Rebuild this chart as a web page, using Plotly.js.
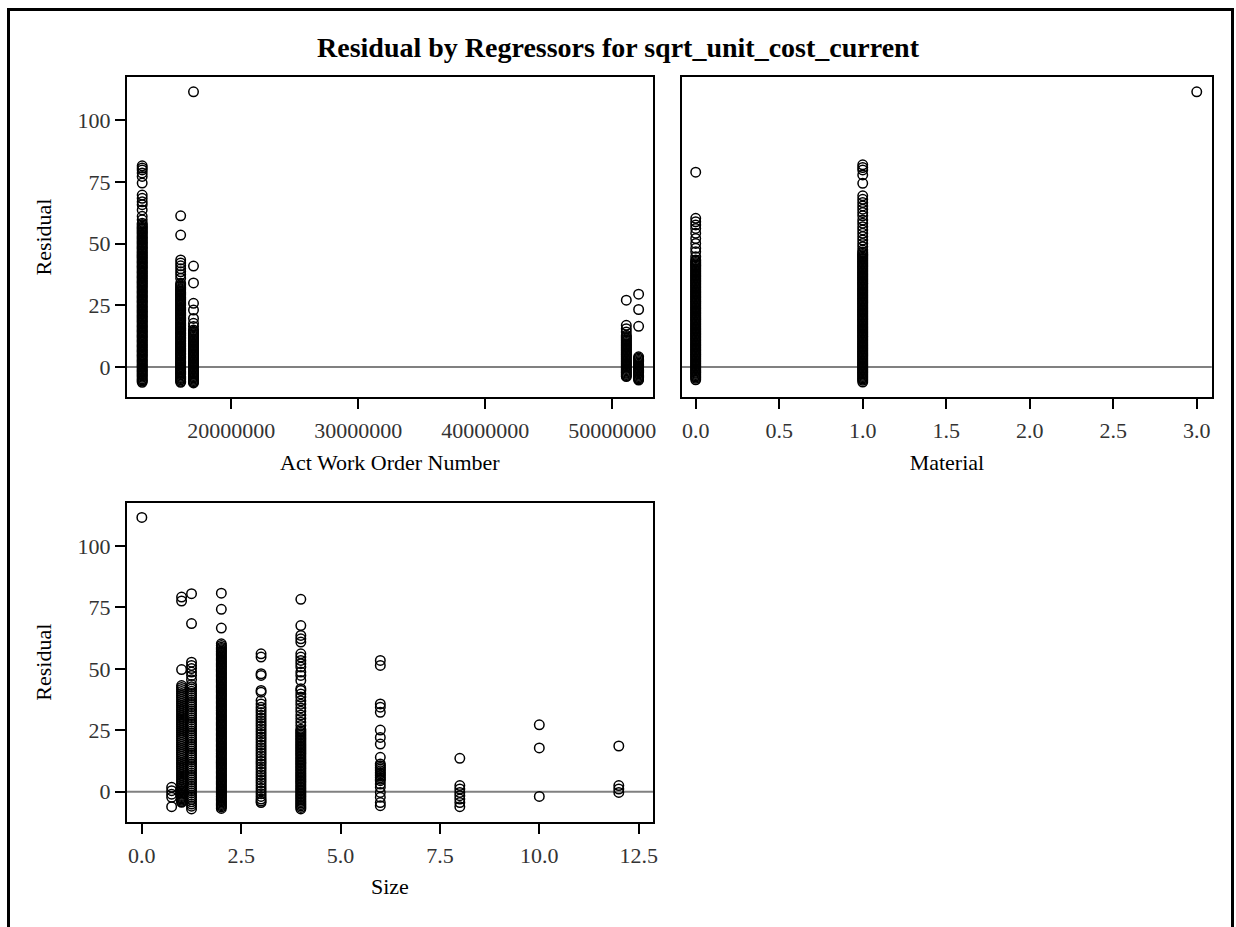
<!DOCTYPE html>
<html>
<head>
<meta charset="utf-8">
<script src="https://cdn.plot.ly/plotly-3.0.1.min.js"></script>
<style>
  html, body { margin: 0; padding: 0; background: #ffffff; }
  #wrap { position: relative; width: 1236px; height: 927px; overflow: hidden; }
  #chart { position: absolute; left: 0; top: 0; width: 1236px; height: 927px; }
  #frame { position: absolute; left: 7px; top: 8px; width: 1221px; height: 940px;
           border: 3px solid #000; border-bottom: none; pointer-events: none; }
</style>
</head>
<body>
<div id="wrap">
  <div id="chart"></div>
  <div id="frame"></div>
</div>
<script>
// ---------------- Data ----------------
// Panel 1: Residual vs Act Work Order Number (one column per work-order group)
const woX = [12990000, 16020000, 17030000, 51100000, 52070000];
const residWO13 = [81.6, 80.7, 79.9, 78.7, 77.3, 74.6, 69.7, 68.4, 67.0, 65.8, 63.7, 61.1, 59.7,
  58.3, 57.8, 57.2, 56.7, 56.3, 55.8, 55.2, 54.7, 54.3, 53.8, 53.2, 52.7, 52.3, 51.8, 51.2, 50.7,
  50.3, 49.8, 49.2, 48.7, 48.3, 47.8, 47.2, 46.7, 46.3, 45.8, 45.2, 44.7, 44.3, 43.8, 43.2, 42.7,
  42.3, 41.8, 41.2, 40.7, 40.3, 39.8, 39.2, 38.7, 38.3, 37.8, 37.2, 36.7, 36.3, 35.8, 35.2, 34.7,
  34.3, 33.8, 33.2, 32.7, 32.3, 31.8, 31.2, 30.7, 30.3, 29.8, 29.2, 28.7, 28.3, 27.8, 27.2, 26.7,
  26.3, 25.8, 25.2, 24.7, 24.3, 23.8, 23.2, 22.7, 22.3, 21.8, 21.2, 20.7, 20.3, 19.8, 19.2, 18.7,
  18.3, 17.8, 17.2, 16.7, 16.3, 15.8, 15.2, 14.7, 14.3, 13.8, 13.2, 12.7, 12.3, 11.8, 11.2, 10.7,
  10.3, 9.8, 9.2, 8.7, 8.3, 7.8, 7.2, 6.7, 6.3, 5.8, 5.2, 4.7, 4.3, 3.8, 3.2, 2.7, 2.3, 1.8, 1.2,
  0.7, 0.3, -0.2, -0.8, -1.3, -1.7, -2.2, -2.8, -3.3, -3.7, -4.2, -4.8, -5.3, -5.7, -6.2];
const residWO16 = [61.3, 53.5, 43.4, 42.2, 41.0, 39.8, 38.6, 37.4, 36.0, 34.0,
  33.3, 32.8, 32.2, 31.7, 31.3, 30.8, 30.2, 29.7, 29.3, 28.8, 28.2, 27.7, 27.3, 26.8, 26.2, 25.7,
  25.3, 24.8, 24.2, 23.7, 23.3, 22.8, 22.2, 21.7, 21.3, 20.8, 20.2, 19.7, 19.3, 18.8, 18.2, 17.7,
  17.3, 16.8, 16.2, 15.7, 15.3, 14.8, 14.2, 13.7, 13.3, 12.8, 12.2, 11.7, 11.3, 10.8, 10.2, 9.7,
  9.3, 8.8, 8.2, 7.7, 7.3, 6.8, 6.2, 5.7, 5.3, 4.8, 4.2, 3.7, 3.3, 2.8, 2.2, 1.7, 1.3, 0.8, 0.2,
  -0.3, -0.7, -1.2, -1.8, -2.3, -2.7, -3.2, -3.8, -4.3, -4.7, -5.2, -5.8, -6.2];
const residWO17 = [111.6, 40.9, 34.1, 25.8, 23.1, 19.7, 17.7, 16.4, 15.0,
  14.5, 14.0, 13.5, 13.0, 12.5, 12.0, 11.5, 11.0, 10.5, 10.0, 9.5, 9.0, 8.5, 8.0, 7.5, 7.0, 6.5,
  6.0, 5.5, 5.0, 4.5, 4.0, 3.5, 3.0, 2.5, 2.0, 1.5, 1.0, 0.5, 0.0, -0.5, -1.0, -1.5, -2.0, -2.5,
  -3.0, -3.5, -4.0, -4.5, -5.0, -5.5, -6.0, -6.5];
const residWO51 = [27.1, 16.9, 15.5, 14.2, 12.9, 12.4, 11.9, 11.4, 10.9, 10.4, 9.9, 9.4, 8.9,
  8.4, 7.9, 7.4, 6.9, 6.4, 5.9, 5.4, 4.9, 4.4, 3.9, 3.4, 2.9, 2.4, 1.9, 1.4, 0.9, 0.4, -0.1, -0.6,
  -1.1, -1.6, -2.1, -2.6, -3.1, -3.6, -3.9];
const residWO52 = [29.5, 23.3, 16.5, 4.1, 3.6, 3.1, 2.6, 2.1, 1.6, 1.1, 0.6, 0.1, -0.4, -0.9,
  -1.4, -1.9, -2.4, -2.9, -3.4, -3.9, -4.4, -4.9, -5.3];
const residWO = [residWO13, residWO16, residWO17, residWO51, residWO52];

// Panel 2: Residual vs Material
const matX = [0, 1, 3];
const residMat0 = [79.0, 60.3, 58.9, 57.6, 56.2, 54.2, 52.1, 50.1, 48.1, 46.7, 44.7,
  43.4, 42.9, 42.4, 41.9, 41.4, 40.9, 40.4, 39.9, 39.4, 38.9, 38.4, 37.9, 37.4, 36.9, 36.4, 35.9,
  35.4, 34.9, 34.4, 33.9, 33.4, 32.9, 32.4, 31.9, 31.4, 30.9, 30.4, 29.9, 29.4, 28.9, 28.4, 27.9,
  27.4, 26.9, 26.4, 25.9, 25.4, 24.9, 24.4, 23.9, 23.4, 22.9, 22.4, 21.9, 21.4, 20.9, 20.4, 19.9,
  19.4, 18.9, 18.4, 17.9, 17.4, 16.9, 16.4, 15.9, 15.4, 14.9, 14.4, 13.9, 13.4, 12.9, 12.4, 11.9,
  11.4, 10.9, 10.4, 9.9, 9.4, 8.9, 8.4, 7.9, 7.4, 6.9, 6.4, 5.9, 5.4, 4.9, 4.4, 3.9, 3.4, 2.9,
  2.4, 1.9, 1.4, 0.9, 0.4, -0.1, -0.6, -1.1, -1.6, -2.1, -2.6, -3.1, -3.6, -4.1, -4.6, -5.2];
const residMat1 = [82.0, 80.9, 79.9, 77.9, 74.5, 69.4, 68.0, 66.7, 65.3, 64.0, 62.6, 61.3, 59.6,
  58.3, 56.9, 55.6, 54.2, 52.9, 51.5, 50.1, 48.8, 47.4,
  46.6, 46.1, 45.6, 45.1, 44.6, 44.1, 43.6, 43.1, 42.6, 42.1, 41.6, 41.1, 40.6, 40.1, 39.6, 39.1,
  38.6, 38.1, 37.6, 37.1, 36.6, 36.1, 35.6, 35.1, 34.6, 34.1, 33.6, 33.1, 32.6, 32.1, 31.6, 31.1,
  30.6, 30.1, 29.6, 29.1, 28.6, 28.1, 27.6, 27.1, 26.6, 26.1, 25.6, 25.1, 24.6, 24.1, 23.6, 23.1,
  22.6, 22.1, 21.6, 21.1, 20.6, 20.1, 19.6, 19.1, 18.6, 18.1, 17.6, 17.1, 16.6, 16.1, 15.6, 15.1,
  14.6, 14.1, 13.6, 13.1, 12.6, 12.1, 11.6, 11.1, 10.6, 10.1, 9.6, 9.1, 8.6, 8.1, 7.6, 7.1, 6.6,
  6.1, 5.6, 5.1, 4.6, 4.1, 3.6, 3.1, 2.6, 2.1, 1.6, 1.1, 0.6, 0.1, -0.4, -0.9, -1.4, -1.9, -2.4,
  -2.9, -3.4, -3.9, -4.4, -4.9, -5.4, -6.1];
const residMat3 = [111.6];
const residMat = [residMat0, residMat1, residMat3];

// Panel 3: Residual vs Size
const sizeX = [0, 0.75, 1, 1.25, 2, 3, 4, 6, 8, 10, 12];
const residSize0 = [111.6];
const residSize075 = [1.8, 0.4, -1.0, -2.3, -6.1];
const residSize1 = [79.2, 77.6, 49.7, 43.2, 42.4, 41.6, 40.8, 40.0, 39.2, 38.4, 37.6, 36.8, 36.0,
  35.2, 34.4, 33.6, 32.8, 32.0, 31.2, 30.4, 29.6, 28.8, 28.0, 27.2, 26.4, 25.6, 24.8, 24.0, 23.2,
  22.4, 21.6, 20.8, 20.0, 19.2, 18.4, 17.6, 16.8, 16.0, 15.2, 14.4, 13.6, 12.8, 12.0, 11.2, 10.4,
  9.6, 8.8, 8.0, 7.2, 6.4, 5.6, 4.8, 4.0, 3.2, 2.4, 1.6, 1.0, 0.5, 0.0, -0.5, -1.0, -1.5, -2.0,
  -2.5, -3.0, -3.5, -4.0, -4.3];
const residSize125 = [80.6, 68.4, 52.7, 51.4, 50.1, 48.7, 47.3, 45.6, 43.6, 42.7, 41.8, 40.9,
  40.0, 39.1, 38.2, 37.3, 36.4, 35.5, 34.6, 33.7, 32.8, 31.9, 31.0, 30.1, 29.2, 28.3, 27.4, 26.5,
  25.6, 24.7, 23.8, 22.9, 22.0, 21.1, 20.2, 19.3, 18.4, 17.5, 16.6, 15.7, 14.8, 13.9, 13.0, 12.1,
  11.2, 10.3, 9.4, 8.5, 7.6, 6.7, 5.8, 4.9, 4.0, 3.1, 2.2, 1.3, 0.4, -0.5, -1.4, -2.3, -3.2,
  -4.1, -5.0, -5.9, -7.0];
const residSize2 = [80.8, 74.2, 66.6, 60.2, 59.5, 58.8,
  58.3, 57.8, 57.3, 56.8, 56.3, 55.8, 55.3, 54.8, 54.3, 53.8, 53.3, 52.8, 52.3, 51.8, 51.3, 50.8,
  50.3, 49.8, 49.3, 48.8, 48.3, 47.8, 47.3, 46.8, 46.3, 45.8, 45.3, 44.8, 44.3, 43.8, 43.3, 42.8,
  42.3, 41.8, 41.3, 40.8, 40.3, 39.8, 39.3, 38.8, 38.3, 37.8, 37.3, 36.8, 36.3, 35.8, 35.3, 34.8,
  34.3, 33.8, 33.3, 32.8, 32.3, 31.8, 31.3, 30.8, 30.3, 29.8, 29.3, 28.8, 28.3, 27.8, 27.3, 26.8,
  26.3, 25.8, 25.3, 24.8, 24.3, 23.8, 23.3, 22.8, 22.3, 21.8, 21.3, 20.8, 20.3, 19.8, 19.3, 18.8,
  18.3, 17.8, 17.3, 16.8, 16.3, 15.8, 15.3, 14.8, 14.3, 13.8, 13.3, 12.8, 12.3, 11.8, 11.3, 10.8,
  10.3, 9.8, 9.3, 8.8, 8.3, 7.8, 7.3, 6.8, 6.3, 5.8, 5.3, 4.8, 4.3, 3.8, 3.3, 2.8, 2.3, 1.8, 1.3,
  0.8, 0.3, -0.2, -0.7, -1.2, -1.7, -2.2, -2.7, -3.2, -3.7, -4.2, -4.7, -5.2, -5.7, -6.2, -6.8];
const residSize3 = [56.1, 54.8, 48.0, 47.3, 41.2, 40.5, 37.1, 35.7, 34.4, 33.3, 32.2, 31.1, 30.0,
  28.9, 27.8, 26.7, 25.6, 24.5, 23.4, 22.3, 21.2, 20.1, 19.0, 17.9, 16.8, 15.7, 14.6, 13.5, 12.4,
  11.3, 10.2, 9.1, 8.0, 6.9, 5.8, 4.7, 3.6, 2.5, 1.4, 0.3, -0.8, -1.9, -3.0, -3.8, -4.4];
const residSize4 = [78.3, 67.6, 63.6, 62.2, 60.9, 56.1, 54.8, 53.4, 52.1, 50.7, 48.7, 47.3, 45.3,
  41.9, 41.2, 39.8, 38.5, 37.0, 35.6, 34.1, 32.7, 31.2, 29.8, 28.3, 26.9, 25.4,
  24.8, 24.2, 23.6, 23.0, 22.4, 21.8, 21.2, 20.6, 20.0, 19.4, 18.8, 18.2, 17.6, 17.0, 16.4, 15.8,
  15.2, 14.6, 14.0, 13.4, 12.8, 12.2, 11.6, 11.0, 10.4, 9.8, 9.2, 8.6, 8.0, 7.4, 6.8, 6.2, 5.6,
  5.0, 4.4, 3.8, 3.2, 2.6, 2.0, 1.4, 0.8, 0.2, -0.4, -1.0, -1.6, -2.2, -2.8, -3.4, -4.0, -4.6,
  -5.2, -5.8, -6.4, -7.0];
const residSize6 = [53.4, 51.4, 35.7, 34.4, 32.3, 25.1, 22.1, 19.4, 14.0, 11.3, 10.6, 9.9, 9.2,
  8.5, 7.8, 7.2, 6.5, 5.8, 5.1, 4.5, 3.1, 1.8, -0.3, -2.3, -4.4, -5.7];
const residSize8 = [13.6, 2.5, 1.1, -0.3, -1.6, -3.0, -4.4, -6.1];
const residSize10 = [27.2, 17.8, -1.9];
const residSize12 = [18.6, 2.5, 1.1, -0.3];
const residSize = [residSize0, residSize075, residSize1, residSize125, residSize2, residSize3,
  residSize4, residSize6, residSize8, residSize10, residSize12];

const yTicks = [0, 25, 50, 75, 100];
const woTicks = [20000000, 30000000, 40000000, 50000000];
const woTickText = ['20000000', '30000000', '40000000', '50000000'];

// ---------------- Build traces ----------------
function flatten(xs, groups) {
  const x = [], y = [];
  groups.forEach((g, i) => g.forEach(v => { x.push(xs[i]); y.push(v); }));
  return {x, y};
}
const marker = { symbol: 'circle-open', size: 9.5, color: '#000', line: { color: '#000', width: 1.5 } };
const p1 = flatten(woX, residWO);
const p2 = flatten(matX, residMat);
const p3 = flatten(sizeX, residSize);

const traces = [
  { type: 'scatter', mode: 'markers', x: p1.x, y: p1.y, xaxis: 'x', yaxis: 'y', marker, hoverinfo: 'x+y' },
  { type: 'scatter', mode: 'markers', x: p2.x, y: p2.y, xaxis: 'x2', yaxis: 'y2', marker, hoverinfo: 'x+y' },
  { type: 'scatter', mode: 'markers', x: p3.x, y: p3.y, xaxis: 'x3', yaxis: 'y3', marker, hoverinfo: 'x+y' }
];

const FONT = 'Liberation Serif, Times New Roman, serif';
const tickFont = { family: FONT, size: 22, color: '#333' };
const titleFont = { family: FONT, size: 22, color: '#000' };
const axBase = {
  showline: true, mirror: true, linecolor: '#000', linewidth: 2,
  ticks: 'outside', ticklen: 10, tickwidth: 2, tickcolor: '#000',
  showgrid: false, zeroline: false, tickfont: tickFont, fixedrange: true
};
const yRange = [-12.2, 117.6];

const layout = {
  width: 1236, height: 927,
  margin: { l: 0, r: 0, t: 0, b: 0 },
  paper_bgcolor: '#fff', plot_bgcolor: '#fff',
  showlegend: false,
  title: { text: '<b>Residual by Regressors for sqrt_unit_cost_current</b>',
           x: 0.5, xanchor: 'center', y: 1 - 47 / 927, yanchor: 'middle',
           font: { family: FONT, size: 28, color: '#000' } },
  xaxis: Object.assign({}, axBase, { domain: [0.1026, 0.5283], anchor: 'y',
    range: [11780000, 53200000], tickvals: woTicks, ticktext: woTickText, ticklabelstandoff: 3,
    title: { text: 'Act Work Order Number', font: titleFont, standoff: 12 } }),
  yaxis: Object.assign({}, axBase, { domain: [0.5717, 0.9169], anchor: 'x',
    range: yRange, tickvals: yTicks,
    title: { text: 'Residual', font: titleFont, standoff: 20 } }),
  xaxis2: Object.assign({}, axBase, { domain: [0.5518, 0.9804], anchor: 'y2',
    range: [-0.082, 3.09], tick0: 0, dtick: 0.5, tickformat: '.1f', ticklabelstandoff: 3,
    title: { text: 'Material', font: titleFont, standoff: 12 } }),
  yaxis2: Object.assign({}, axBase, { domain: [0.5717, 0.9169], anchor: 'x2',
    range: yRange, ticks: '', showticklabels: false }),
  xaxis3: Object.assign({}, axBase, { domain: [0.1026, 0.5283], anchor: 'y3',
    range: [-0.378, 12.86], tick0: 0, dtick: 2.5, tickformat: '.1f', ticklabelstandoff: 3,
    title: { text: 'Size', font: titleFont, standoff: 12 } }),
  yaxis3: Object.assign({}, axBase, { domain: [0.1136, 0.4577], anchor: 'x3',
    range: yRange, tickvals: yTicks,
    title: { text: 'Residual', font: titleFont, standoff: 20 } }),
  shapes: [
    { type: 'line', xref: 'x domain', yref: 'y', x0: 0, x1: 1, y0: 0, y1: 0, layer: 'below',
      line: { color: '#808080', width: 2 } },
    { type: 'line', xref: 'x2 domain', yref: 'y2', x0: 0, x1: 1, y0: 0, y1: 0, layer: 'below',
      line: { color: '#808080', width: 2 } },
    { type: 'line', xref: 'x3 domain', yref: 'y3', x0: 0, x1: 1, y0: 0, y1: 0, layer: 'below',
      line: { color: '#808080', width: 2 } }
  ]
};

Plotly.newPlot('chart', traces, layout, { displayModeBar: false, staticPlot: true });
</script>
</body>
</html>
